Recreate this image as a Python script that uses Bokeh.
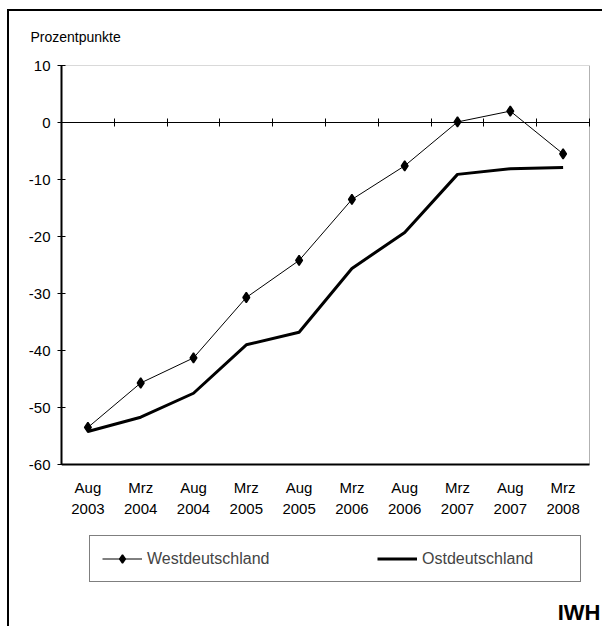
import numpy as np
from bokeh.plotting import figure
from bokeh.models import (Range1d, LinearAxis, FixedTicker, Legend, LegendItem,
                          ColumnDataSource, BoxAnnotation, Label)
from bokeh.embed import file_html
from bokeh.resources import INLINE

# ---- data ----
months = ["Aug 2003", "Mrz 2004", "Aug 2004", "Mrz 2005", "Aug 2005",
          "Mrz 2006", "Aug 2006", "Mrz 2007", "Aug 2007", "Mrz 2008"]
west = [-53.5, -45.7, -41.3, -30.7, -24.2, -13.5, -7.6, 0.1, 2.0, -5.5]
ost = [-54.2, -51.7, -47.5, -39.0, -36.8, -25.6, -19.3, -9.1, -8.1, -7.9]
y_ticks = [-60, -50, -40, -30, -20, -10, 0, 10]
series_names = ["Westdeutschland", "Ostdeutschland"]
unit_label = "Prozentpunkte"
source_label = "IWH"

FONT = "Liberation Sans"
n = len(months)
y_lo, y_hi = min(y_ticks), max(y_ticks)
xpos = [i + 0.5 for i in range(n)]          # category centres
labels = {x: m.replace(" ", "\n") for x, m in zip(xpos, months)}
ylabels = {t: str(t) for t in y_ticks}     # plain hyphen minus

# layout: plot area 528 x 399 px; the frame is extended to the canvas edge
# so that legend and source note can live inside it
PLOT_W, PLOT_H = 528, 399
FRAME_W, FRAME_H = 541, 561
x_end = n * FRAME_W / PLOT_W
y_start = y_hi - FRAME_H * (y_hi - y_lo) / PLOT_H

p = figure(frame_width=FRAME_W, frame_height=FRAME_H,
           x_range=Range1d(0, x_end), y_range=Range1d(y_start, y_hi),
           output_backend="svg", toolbar_location=None,
           min_border_left=61, min_border_top=65,
           min_border_right=0, min_border_bottom=0)

p.border_fill_color = None
p.background_fill_color = None
p.outline_line_color = None
p.xgrid.visible = False
p.ygrid.visible = False
p.styles = {"box-shadow": "inset 7px 9px 0 0 #fff, inset 9px 11px 0 0 #000"}

# plot-area box (thin top / right border)
p.add_layout(BoxAnnotation(left=0, right=n, bottom=y_lo, top=y_hi,
                           fill_color=None, line_color="black", line_width=1))

# y axis
yax = p.yaxis[0]
yax.ticker = FixedTicker(ticks=y_ticks)
yax.bounds = (y_lo, y_hi)
yax.major_label_overrides = ylabels
yax.minor_tick_line_color = None
yax.major_tick_in = 4
yax.major_tick_out = 4
yax.axis_line_width = 2
yax.axis_line_color = "black"
yax.major_tick_line_color = "black"
yax.major_label_text_font = FONT
yax.major_label_text_font_size = "15px"
yax.major_label_text_color = "black"
yax.major_label_standoff = 7

# x axis (category labels under the -60 line)
xax = p.xaxis[0]
xax.fixed_location = y_lo
xax.bounds = (0, n)
xax.ticker = FixedTicker(ticks=xpos)
xax.major_label_overrides = labels
xax.minor_tick_line_color = None
xax.major_tick_in = 0
xax.major_tick_out = 0
xax.axis_line_width = 2
xax.axis_line_color = "black"
xax.major_label_text_font = FONT
xax.major_label_text_font_size = "15px"
xax.major_label_text_color = "black"
xax.major_label_text_line_height = 1.25
xax.major_label_standoff = 14

# tick axis along the zero line, ticks at category boundaries
zax = LinearAxis(fixed_location=0, bounds=(0, n),
                 ticker=FixedTicker(ticks=list(range(0, n + 1))))
zax.major_tick_in = 4
zax.major_tick_out = 4
zax.minor_tick_line_color = None
zax.axis_line_color = "black"
zax.axis_line_width = 1
zax.major_label_text_alpha = 0
zax.major_label_text_font_size = "1px"
zax.major_label_standoff = 0
p.add_layout(zax, "above")

# unit title
p.title.text = unit_label
p.title.align = "left"
p.title.offset = -31
p.title.text_font = FONT
p.title.text_font_size = "14px"
p.title.text_font_style = "normal"
p.title.text_color = "black"
p.title.standoff = 42

# data
src = ColumnDataSource(dict(x=xpos, west=west, ost=ost))
rw_line = p.line("x", "west", source=src, line_color="black", line_width=1)
rw_mark = p.scatter("x", "west", source=src, marker="diamond", size=10,
                    line_width=1.5, fill_color="black", line_color="black")
ro = p.line("x", "ost", source=src, line_color="black", line_width=3)

legend = Legend(items=[LegendItem(label=series_names[0], renderers=[rw_line, rw_mark]),
                       LegendItem(label=series_names[1], renderers=[ro])],
                orientation="horizontal", location=(28, 44), margin=0,
                padding=12, spacing=84, glyph_width=40, glyph_height=21,
                label_width=146, label_standoff=5,
                border_line_color="black", border_line_width=1,
                label_text_font=FONT, label_text_font_size="16px",
                background_fill_color="white", background_fill_alpha=1)
p.add_layout(legend)

# source note
p.add_layout(Label(x=x_end, y=y_start, text=source_label, text_align="right",
                   text_baseline="bottom", x_offset=-2, y_offset=2,
                   text_font=FONT, text_font_size="22px", text_font_style="bold",
                   text_color="black"))

open("out.html", "w").write(file_html(p, INLINE))
